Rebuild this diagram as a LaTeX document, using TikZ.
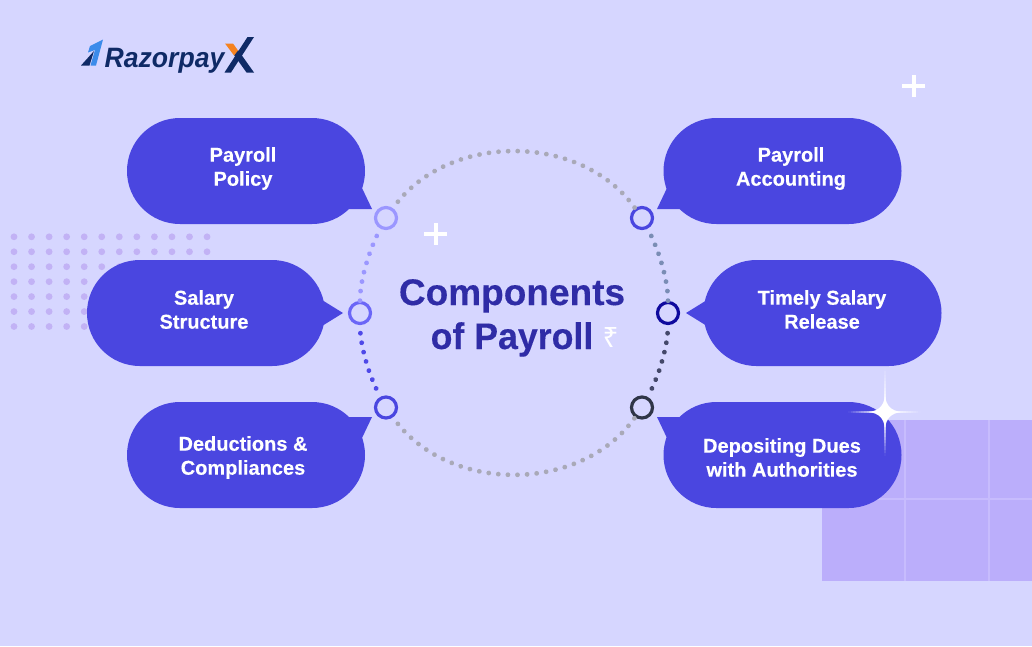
\documentclass[tikz,border=0pt]{standalone}
\usepackage{fontspec}
\setmainfont[BoldFeatures={FakeBold=0.25}]{Liberation Sans}
\newfontfamily\rupeefont{Noto Sans}
\definecolor{bgc}{HTML}{D6D6FF}
\definecolor{pill}{HTML}{4A46E0}
\definecolor{sq}{HTML}{BBAEFB}
\definecolor{sqline}{HTML}{C7BCFD}
\definecolor{dotc}{HTML}{C2B2F5}
\definecolor{titlec}{HTML}{2F2CA6}
\definecolor{navy}{HTML}{0F2A66}
\definecolor{lblue}{HTML}{3B8BEA}
\definecolor{orng}{HTML}{F58220}
\definecolor{ga}{HTML}{A9A9B8}
\definecolor{ringa}{HTML}{9B97FF}
\definecolor{ringb}{HTML}{6B66F7}
\definecolor{ringc}{HTML}{4A46E0}
\definecolor{ringd}{HTML}{0F0A9E}
\definecolor{ringe}{HTML}{2F3547}
\definecolor{dotb}{HTML}{4F49E8}
\definecolor{dotd}{HTML}{7A8DB5}
\definecolor{dote}{HTML}{44486A}
\tikzset{
  pillbox/.style={draw=none, fill=pill, rounded corners=52.9pt, minimum width=238pt, minimum height=106pt, inner sep=0pt, outer sep=0pt},
  pilltext/.style={text=white, font=\fontsize{20}{24}\selectfont\bfseries, align=center, inner sep=0pt},
  tail/.style={fill=pill, draw=none},
  ring/.style={circle, draw=#1, line width=3.2pt, fill=none, minimum size=21pt, inner sep=0pt, outer sep=1.6pt},
  dotline/.style={draw=#1, line width=4.8pt, line cap=round, dash pattern=on 0.01pt off 9.6pt, dash phase=1.5pt},
  titletext/.style={text=titlec, font=\fontsize{37}{44}\selectfont\bfseries, inner sep=0pt, anchor=base},
  plussign/.style={white, line width=4pt}
}
\begin{document}
\begin{tikzpicture}[x=1pt,y=-1pt]
\useasboundingbox (0,0) rectangle (1032,646);
\fill[bgc] (0,0) rectangle (1032,646);
% dot grid
\foreach \r in {0,...,6}{\foreach \c in {0,...,11}{
  \fill[dotc] ({14+17.55*\c},{236.8+14.95*\r}) circle (3.4pt);}}
% square with grid
\fill[sq] (822,420) rectangle (1032,581);
\draw[sqline, line width=1.3pt] (905,420) -- (905,581) (989,420) -- (989,581) (822,499) -- (1032,499);
% logo
\fill[navy] (81,65.5) -- (94,51) -- (89.5,65.5) -- cycle;
\fill[lblue] (90,46) -- (103,39.5) -- (96,65.5) -- (90.5,65.5) -- (95,50) -- (88,52.5) -- cycle;
\node[inner sep=0pt, anchor=base west, text=navy] (logotext) at (104.5,67) {\fontsize{28}{30}\selectfont\bfseries\itshape\scalebox{0.95}[1]{Razorpay}};
\fill[navy] (247.5,37) -- (254,37) -- (231,72.5) -- (224.5,72.5) -- cycle;
\fill[navy] (234,55) -- (238,50) -- (254,72.5) -- (246.5,72.5) -- cycle;
\fill[orng] (225,43.5) -- (233,43.5) -- (238,50.5) -- (234,55.5) -- cycle;
% rings
\node[ring=ringa] (n1) at (386,218) {};
\node[ring=ringb] (n2) at (360,313) {};
\node[ring=ringc] (n3) at (386,407.5) {};
\node[ring=ringc] (n4) at (642,218) {};
\node[ring=ringd] (n5) at (668,313) {};
\node[ring=ringe] (n6) at (642,407.5) {};
% dotted arcs
\draw[dotline=ga] (n1) .. controls (447,132) and (581,132) .. (n4);
\draw[dotline=ga] (n3) .. controls (447,494) and (581,494) .. (n6);
\draw[dotline=ringa] (n1) .. controls (369,250) and (360,280) .. (n2);
\draw[dotline=dotb] (n2) .. controls (360,346) and (369,376) .. (n3);
\draw[dotline=dotd] (n4) .. controls (659,250) and (668,280) .. (n5);
\draw[dotline=dote] (n5) .. controls (668,346) and (659,376) .. (n6);
% speech bubbles
\fill[tail] (362,188) -- (372,209) -- (345,209) -- cycle;
\fill[tail] (362,438) -- (372,417) -- (345,417) -- cycle;
\fill[tail] (667,188) -- (657,209) -- (684,209) -- cycle;
\fill[tail] (667,438) -- (657,417) -- (684,417) -- cycle;
\fill[tail] (322,300) -- (343,313) -- (322,326) -- cycle;
\fill[tail] (707,300) -- (686,313) -- (707,326) -- cycle;
\node[pillbox] (b1) at (246,171) {};
\node[pillbox] (b2) at (206,313) {};
\node[pillbox] (b3) at (246,455) {};
\node[pillbox] (b4) at (782.5,171) {};
\node[pillbox] (b5) at (822.5,313) {};
\node[pillbox] (b6) at (782.5,455) {};
\node[pilltext] (t1) at (243,168.5) {Payroll\\Policy};
\node[pilltext] (t2) at (204,309.5) {Salary\\Structure};
\node[pilltext] (t3) at (243,457.5) {Deductions \&\\Compliances};
\node[pilltext] (t4) at (791,168.5) {Payroll\\Accounting};
\node[pilltext] (t5) at (822,309.5) {Timely Salary\\Release};
\node[pilltext] (t6) at (782,457.5) {Depositing Dues\\with Authorities};
% title
\node[titletext] (title1) at (512,305) {Components};
\node[titletext] (title2) at (512,349) {\scalebox{0.965}[1]{of Payroll}};
\node[inner sep=0pt, text=white, font=\fontsize{28}{30}\selectfont\rupeefont] (rupee) at (610.5,337) {₹};
% plus signs
\draw[plussign] (424,234) -- (447,234) (435.5,223) -- (435.5,245);
\draw[plussign] (902,86) -- (925,86) (913.5,75) -- (913.5,97);
% sparkle
\begin{scope}[shift={(885,412)}]
\foreach \dx/\dy/\len in {1/0/36,-1/0/37,0/1/44,0/-1/44}{
  \foreach \i in {0,...,11}{
    \pgfmathsetmacro{\sa}{5+(\len-5)*\i/12}
    \pgfmathsetmacro{\sb}{5+(\len-5)*(\i+1)/12}
    \pgfmathsetmacro{\op}{1-(\i+0.5)/12}
    \fill[white, opacity=\op] ({\dx*\sa-abs(\dy)*0.9},{\dy*\sa-abs(\dx)*0.9}) rectangle ({\dx*\sb+abs(\dy)*0.9},{\dy*\sb+abs(\dx)*0.9});
  }
}
\fill[white] (0,-16) .. controls (1.5,-6) and (6,-1.5) .. (16,0) .. controls (6,1.5) and (1.5,6) .. (0,16) .. controls (-1.5,6) and (-6,1.5) .. (-16,0) .. controls (-6,-1.5) and (-1.5,-6) .. cycle;
\end{scope}
\end{tikzpicture}
\end{document}
